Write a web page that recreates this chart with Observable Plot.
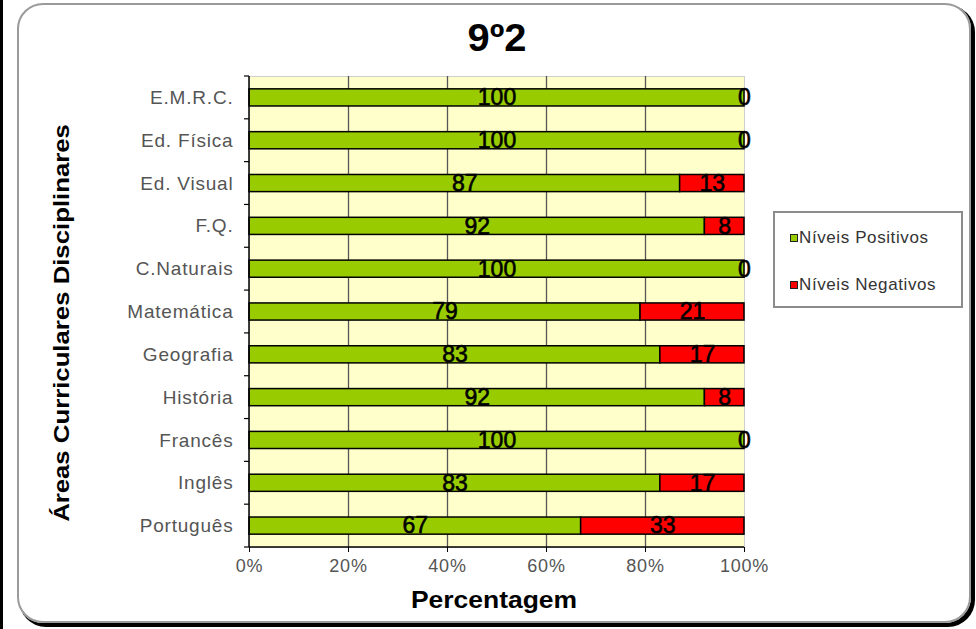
<!DOCTYPE html>
<html><head><meta charset="utf-8">
<script src="https://cdn.jsdelivr.net/npm/d3@7"></script>
<script src="https://cdn.jsdelivr.net/npm/@observablehq/plot@0.6"></script>
<style>
body{margin:0;background:#fff;font-family:"Liberation Sans",Arial,sans-serif;}
#wrap{position:relative;width:976px;height:629px;overflow:hidden;background:#fff;}
#leftline{position:absolute;left:0;top:0;width:3px;height:629px;background:#000;}
#frame{position:absolute;left:17px;top:3px;width:950px;height:616px;border:2px solid #9a9a9a;border-radius:26px;box-shadow:3px 3px 0 1px #000;}
#chart{position:absolute;left:0;top:0;}
#chart g[aria-label="x-axis tick label"] text, #chart g[aria-label="y-axis tick label"] text{letter-spacing:0.8px;}
.lbl{position:absolute;font-weight:bold;color:#000;white-space:nowrap;}
#title{left:497px;top:38px;font-size:38px;transform:translate(-50%,-50%) scaleX(1.05);}
#xlabel{left:494px;top:600px;font-size:23px;transform:translate(-50%,-50%) scaleX(1.15);}
#ylabel{left:62px;top:323px;font-size:22px;transform:translate(-50%,-50%) rotate(-90deg) scaleX(1.17);}
#legend{position:absolute;left:773px;top:211px;width:186px;height:93px;border:2px solid #8c8c8c;background:#fff;}
.item{position:absolute;left:15px;font-size:17px;color:#333;display:flex;align-items:center;white-space:nowrap;letter-spacing:0.6px;}
.sw{width:6px;height:6px;border:1.5px solid #222;margin-right:1px;}
</style></head><body>
<div id="wrap"><div id="leftline"></div><div id="frame"></div></div>
<script>
const categories = ["E.M.R.C.","Ed. Física","Ed. Visual","F.Q.","C.Naturais","Matemática","Geografia","História","Francês","Inglês","Português"];
const positivos = [100,100,87,92,100,79,83,92,100,83,67];
const negativos = [0,0,13,8,0,21,17,8,0,17,33];
const seriesNames = ["Níveis Positivos","Níveis Negativos"];
const seriesColors = ["#99CC00","#FF0000"];
const xTicks = [0,20,40,60,80,100];
const titleText = "9º2";
const xLabelText = "Percentagem";
const yLabelText = "Áreas Curriculares Disciplinares";

const data = categories.flatMap((c, i) => [
  {cat: c, serie: seriesNames[0], value: positivos[i]},
  {cat: c, serie: seriesNames[1], value: negativos[i]}
]);

// boundary ticks on the band y scale + axis lines
function bandTicks(index, scales, values, dimensions) {
  const y = scales.y;
  const step = y(categories[1]) - y(categories[0]);
  const bw = typeof y.bandwidth === "function" ? y.bandwidth() : (+y.bandwidth || 0);
  const off = (step - bw) / 2;
  const x0 = scales.x(0);
  const g = d3.create("svg:g");
  const bounds = categories.map(c => y(c) - off);
  bounds.push(y(categories[categories.length - 1]) + bw + off);
  g.selectAll("line.t").data(bounds).join("line")
    .attr("x1", x0 - 5).attr("x2", x0).attr("y1", d => d).attr("y2", d => d)
    .attr("stroke", "#000").attr("stroke-width", 1.2);
  const yb = bounds[bounds.length - 1];
  g.append("line").attr("x1", x0).attr("x2", scales.x(100)).attr("y1", yb).attr("y2", yb)
    .attr("stroke", "#000").attr("stroke-width", 1.5);
  g.append("line").attr("x1", x0).attr("x2", x0).attr("y1", bounds[0]).attr("y2", yb)
    .attr("stroke", "#000").attr("stroke-width", 1.5);
  return g.node();
}

const chart = Plot.plot({
  width: 976, height: 629,
  marginLeft: 249, marginRight: 232, marginTop: 76, marginBottom: 82,
  style: {fontFamily: "'Liberation Sans', Arial, sans-serif", background: "transparent"},
  x: {domain: [0, 100], label: null},
  y: {domain: categories, paddingInner: 0.6, paddingOuter: 0.3, round: false, label: null},
  color: {domain: seriesNames, range: seriesColors},
  marks: [
    Plot.frame({fill: "#FFFFCC", stroke: "#cfcfcf"}),
    Plot.ruleX(xTicks.slice(1, -1), {stroke: "#555", strokeWidth: 1.3}),
    Plot.barX(data, {x: "value", y: "cat", z: "serie", fill: "serie", stroke: "#000", strokeWidth: 1.5, order: seriesNames}),
    Plot.text(data, Plot.stackX({x: "value", y: "cat", z: "serie", text: d => String(d.value), order: seriesNames, fontSize: 23, fill: "#000", stroke: "#000", strokeWidth: 0.6})),
    Plot.axisX({ticks: xTicks, tickFormat: d => d + "%", tickSize: 5, tickPadding: 7, fontSize: 18, fill: "#555", stroke: "#000", label: null}),
    Plot.axisY({tickSize: 0, tickPadding: 16, fontSize: 19, fill: "#555", label: null}),
    bandTicks
  ]
});
chart.id = "chart";
const wrap = document.getElementById("wrap");
wrap.appendChild(chart);

function addLabel(id, text) {
  const d = document.createElement("div");
  d.className = "lbl"; d.id = id; d.textContent = text;
  wrap.appendChild(d);
}
addLabel("title", titleText);
addLabel("xlabel", xLabelText);
addLabel("ylabel", yLabelText);

const legend = document.createElement("div");
legend.id = "legend";
seriesNames.forEach((name, i) => {
  const it = document.createElement("div");
  it.className = "item";
  it.style.top = (i === 0 ? 15 : 62) + "px";
  const sw = document.createElement("span");
  sw.className = "sw"; sw.style.background = seriesColors[i];
  it.appendChild(sw);
  it.appendChild(document.createTextNode(name));
  legend.appendChild(it);
});
wrap.appendChild(legend);
</script>
</body></html>
